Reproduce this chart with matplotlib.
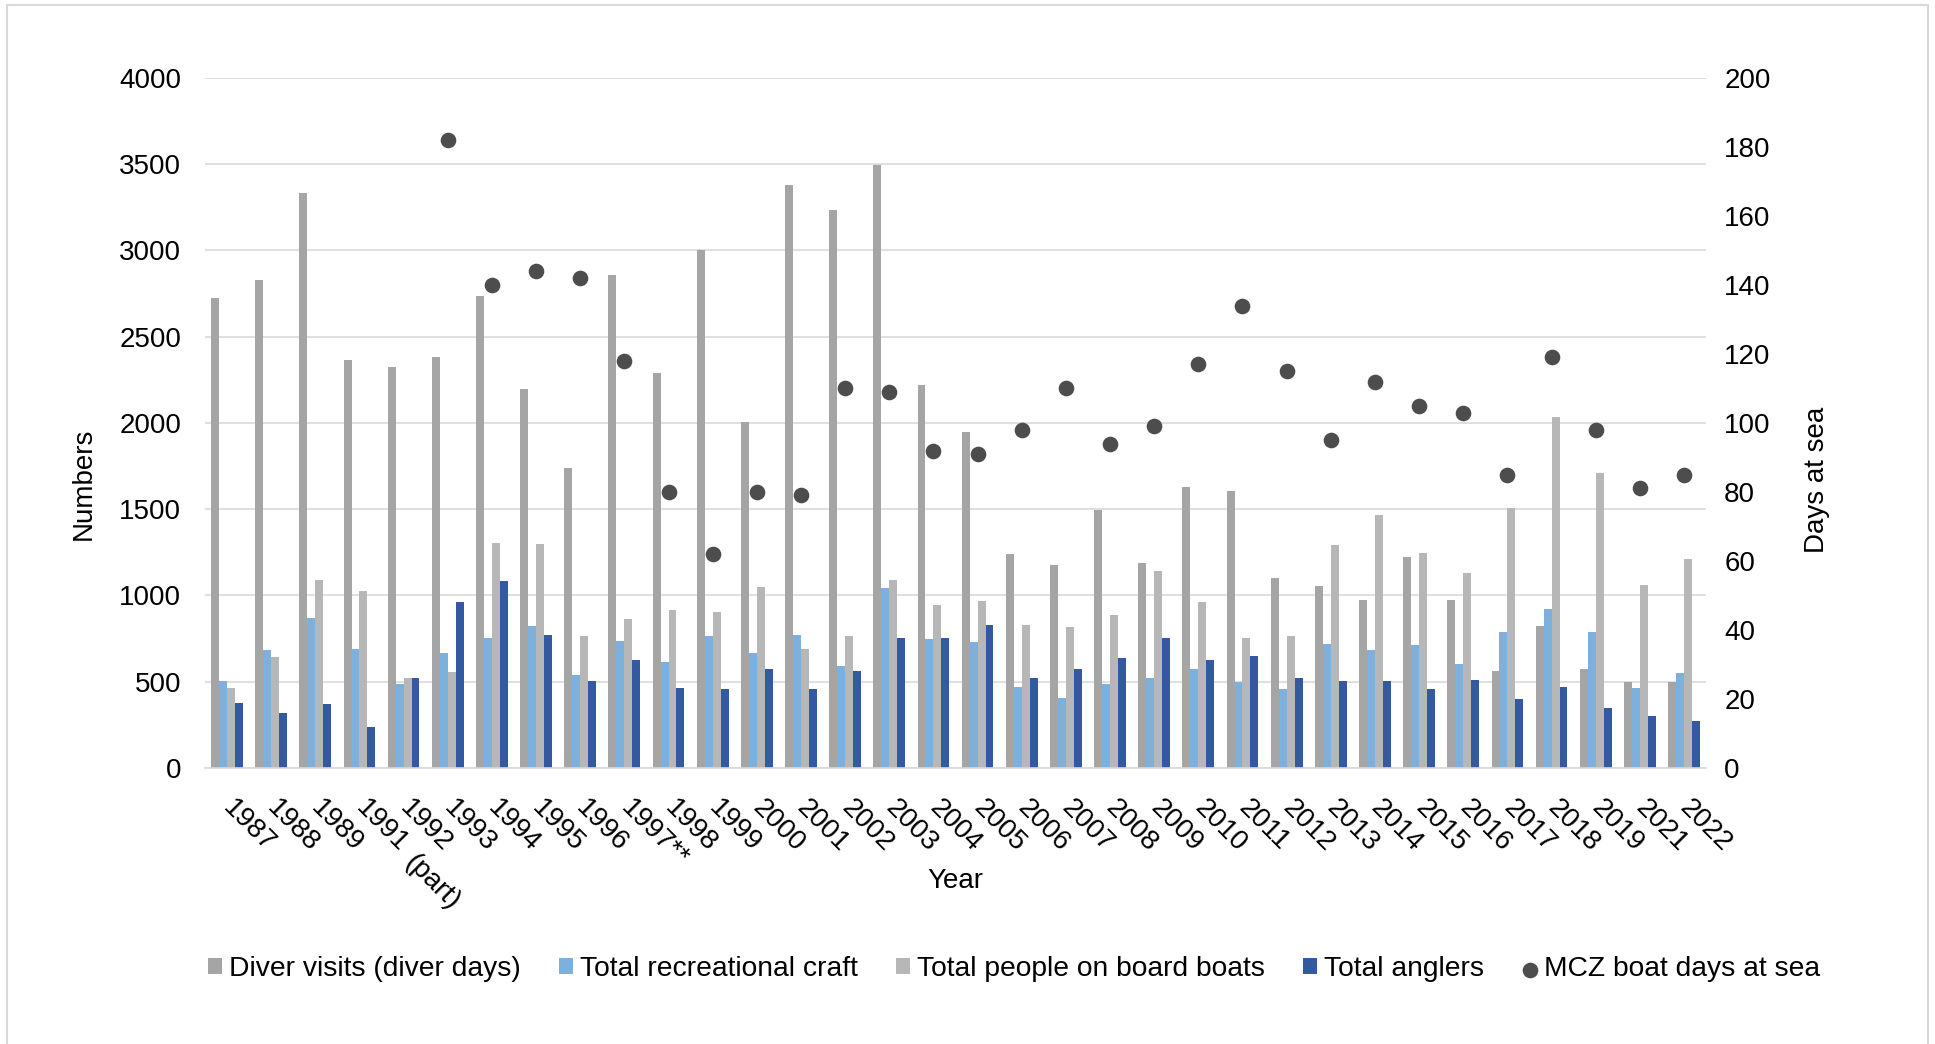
import matplotlib.pyplot as plt
import numpy as np
from matplotlib.patches import Rectangle

plt.rcParams['font.family'] = ['Liberation Sans', 'DejaVu Sans']

# donnees
years = ['1987', '1988', '1989', '1991', '1992', '1993', '1994', '1995',
         '1996', '1997**', '1998', '1999', '2000', '2001', '2002', '2003', '2004',
         '2005', '2006', '2007', '2008', '2009', '2010', '2011', '2012', '2013',
         '2014', '2015', '2016', '2017', '2018', '2019', '2021', '2022']

diver_visits = [2726, 2826, 3333, 2365, 2325, 2380, 2733, 2194, 1741, 2859, 2287, 3000,
                2008, 3378, 3232, 3494, 2222, 1947, 1242, 1176, 1496, 1189, 1630, 1607,
                1103, 1055, 975, 1224, 975, 564, 824, 572, 499, 499]
rec_craft = [504, 685, 872, 690, 489, 665, 756, 824, 537, 738, 617, 763, 665, 768, 592,
             1043, 748, 730, 471, 403, 484, 524, 572, 499, 458, 718, 685, 710, 602, 791,
             922, 791, 463, 549]
people_on_board = [463, 645, 1088, 1025, 524, 557, 1302, 1297, 763, 864, 917, 902, 1048,
                   690, 763, 1088, 945, 970, 829, 816, 884, 1144, 962, 756, 763, 1295,
                   1464, 1247, 1129, 1509, 2033, 1710, 1063, 1209]
anglers = [378, 317, 370, 237, 524, 962, 1083, 768, 504, 625, 463, 458, 572, 458, 564,
           756, 756, 829, 524, 572, 637, 751, 625, 650, 519, 504, 504, 458, 511, 398, 469,
           345, 300, 272]
boat_days = [None, None, None, None, None, 182, 140, 144, 142, 118, 80, 62, 80, 79, 110,
             109, 92, 91, 98, 110, 94, 99, 117, 134, 115, 95, 112, 105, 103, 85, 119, 98,
             81, 85]

fig = plt.figure(figsize=(19.35, 10.44), dpi=100)
ax = fig.add_axes([0.1059, 0.2644, 0.7758, 0.661])
ax2 = ax.twinx()

x = np.arange(len(years))
w = 0.18
b1 = ax.bar(x - 1.5 * w, diver_visits, w, color='#A5A5A5', label='Diver visits (diver days)')
b2 = ax.bar(x - 0.5 * w, rec_craft, w, color='#7EB0DE', label='Total recreational craft')
b3 = ax.bar(x + 0.5 * w, people_on_board, w, color='#B7B7B7', label='Total people on board boats')
b4 = ax.bar(x + 1.5 * w, anglers, w, color='#335AA1', label='Total anglers')

# points MCZ (annees sans donnees ignorees)
xd = [i for i, v in enumerate(boat_days) if v is not None]
yd = [v for v in boat_days if v is not None]
sc = ax2.scatter(xd, yd, s=105, color='#4D4D4D', zorder=3, label='MCZ boat days at sea')

ax.set_xlim(-0.5, len(years) - 0.5)
ax.set_ylim(0, 4000)
ax.set_yticks(np.arange(0, 4001, 500))
ax2.set_ylim(0, 200)
ax2.set_yticks(np.arange(0, 201, 20))

ax.set_axisbelow(True)
ax.grid(axis='y', color='#D9D9D9', linewidth=1.2)
for a in (ax, ax2):
    for s in ['top', 'left', 'right', 'bottom']:
        a.spines[s].set_visible(False)
ax.spines['bottom'].set_visible(True)
ax.spines['bottom'].set_color('#D9D9D9')
ax.spines['bottom'].set_linewidth(1.2)

ax.tick_params(axis='y', length=0, labelsize=20, pad=17)
ax2.tick_params(axis='y', length=0, labelsize=20, pad=13)
ax.set_xticks(x)
ax.set_xticklabels(years, rotation=-45, ha='left', va='center', rotation_mode='anchor')
ax.tick_params(axis='x', length=0, labelsize=20, pad=26)

# deuxieme ligne du label 1991
ax.text(4.1, -0.132, '(part)', transform=ax.get_xaxis_transform(), fontsize=20,
        rotation=-45, ha='left', va='center', rotation_mode='anchor')

ax.set_xlabel('Year', fontsize=20)
ax.xaxis.set_label_coords(0.5, -0.145)
fig.text(0.0434, 0.537, 'Numbers', rotation=90, fontsize=20, ha='center', va='center')
fig.text(0.939, 0.540, 'Days at sea', rotation=90, fontsize=20, ha='center', va='center')

fig.legend(handles=[b1, b2, b3, b4, sc], loc='center', bbox_to_anchor=(0.524, 0.072),
           ncol=5, frameon=False, fontsize=20.3, handlelength=0.5, handleheight=0.5,
           handletextpad=0.25, columnspacing=1.35, borderpad=0)

# cadre du graphique
fig.patches.append(Rectangle((7 / 1935, -0.01), 1921 / 1935, 1.01 - 5 / 1044,
                             transform=fig.transFigure, fill=False,
                             edgecolor='#D9D9D9', linewidth=1.5))

plt.savefig('out.png', dpi=100)
